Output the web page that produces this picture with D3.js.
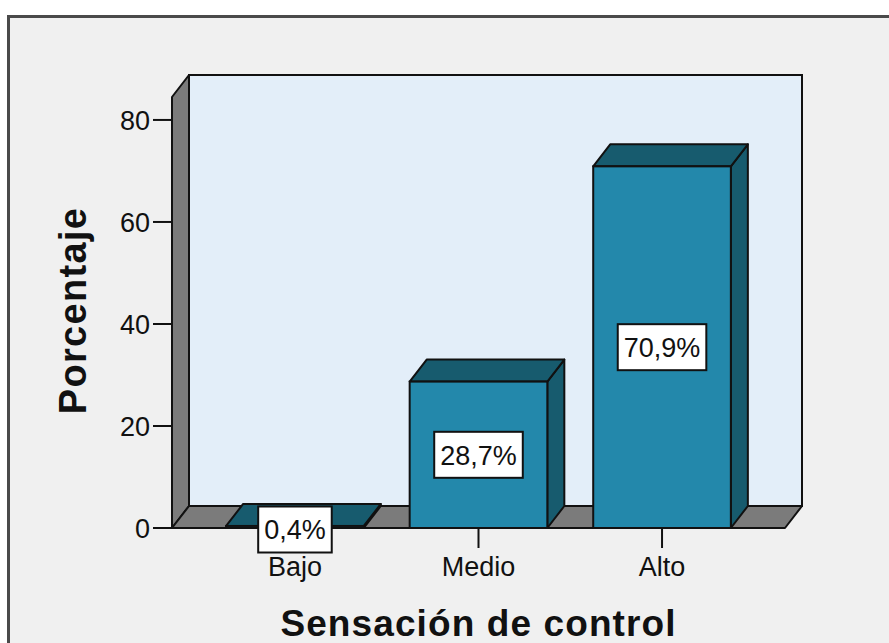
<!DOCTYPE html>
<html>
<head>
<meta charset="utf-8">
<script src="https://cdn.jsdelivr.net/npm/d3@7/dist/d3.min.js"></script>
<style>
  html, body { margin: 0; padding: 0; background: #ffffff; }
  svg { display: block; font-family: "Liberation Sans", Arial, sans-serif; }
</style>
</head>
<body>
<svg id="chart" width="889" height="643"></svg>
<script>
const categories = ["Bajo", "Medio", "Alto"];
const values = [0.4, 28.7, 70.9];
const valueLabels = ["0,4%", "28,7%", "70,9%"];
const yTicks = [0, 20, 40, 60, 80];
const yTitle = "Porcentaje";
const xTitle = "Sensación de control";

const svg = d3.select("#chart");
const W = 889, H = 643;

// layout
const front = { left: 172, right: 785, bottom: 528, top: 97 };
const depth = { dx: 17, dy: 22 };

const x = d3.scaleBand().domain(categories).range([front.left, front.right])
  .paddingInner(0.25).paddingOuter(0.295);
const y = d3.scaleLinear().domain([0, 84.5]).range([front.bottom, front.top]);

// frame
svg.append("rect").attr("x", 8.5).attr("y", 16.5).attr("width", W).attr("height", H)
  .attr("fill", "#f0f0f0").attr("stroke", "#4a4a4a").attr("stroke-width", 3);

const wallStroke = "#111";
const y0 = y(0), yTop = y(84.5);
// back wall
svg.append("rect")
  .attr("x", front.left + depth.dx).attr("y", yTop - depth.dy)
  .attr("width", front.right - front.left).attr("height", y0 - yTop)
  .attr("fill", "#e3eef9").attr("stroke", wallStroke).attr("stroke-width", 2);
// side wall
const poly = pts => pts.map(p => p.join(",")).join(" ");
svg.append("polygon")
  .attr("points", poly([[front.left, y0], [front.left, yTop], [front.left + depth.dx, yTop - depth.dy], [front.left + depth.dx, y0 - depth.dy]]))
  .attr("fill", "#7b7b7b").attr("stroke", wallStroke).attr("stroke-width", 2).attr("stroke-linejoin", "round");
// floor
svg.append("polygon")
  .attr("points", poly([[front.left, y0], [front.right, y0], [front.right + depth.dx, y0 - depth.dy], [front.left + depth.dx, y0 - depth.dy]]))
  .attr("fill", "#7b7b7b").attr("stroke", wallStroke).attr("stroke-width", 2).attr("stroke-linejoin", "round");

// y axis ticks
const yAxisG = svg.append("g");
yTicks.forEach(t => {
  yAxisG.append("line").attr("x1", 153).attr("x2", front.left).attr("y1", y(t)).attr("y2", y(t))
    .attr("stroke", "#111").attr("stroke-width", 2);
  yAxisG.append("text").attr("x", 150).attr("y", y(t)).attr("dy", "0.36em")
    .attr("text-anchor", "end").attr("font-size", 27).attr("fill", "#111").text(t);
});

// x axis ticks and labels
categories.forEach(c => {
  const cx = x(c) + x.bandwidth() / 2;
  svg.append("line").attr("x1", cx).attr("x2", cx).attr("y1", y0).attr("y2", y0 + 20)
    .attr("stroke", "#111").attr("stroke-width", 2);
  svg.append("text").attr("x", cx).attr("y", 576).attr("text-anchor", "middle")
    .attr("font-size", 27).attr("fill", "#111").text(c);
});

// bars
const frontCol = "#2388ab", darkCol = "#175b6e";
categories.forEach((c, i) => {
  const bx = x(c), bw = x.bandwidth(), yv = y(values[i]);
  const g = svg.append("g");
  g.append("polygon")
    .attr("points", poly([[bx + bw, yv], [bx + bw + depth.dx, yv - depth.dy], [bx + bw + depth.dx, y0 - depth.dy], [bx + bw, y0]]))
    .attr("fill", darkCol).attr("stroke", "#111").attr("stroke-width", 2).attr("stroke-linejoin", "round");
  g.append("polygon")
    .attr("points", poly([[bx, yv], [bx + depth.dx, yv - depth.dy], [bx + bw + depth.dx, yv - depth.dy], [bx + bw, yv]]))
    .attr("fill", darkCol).attr("stroke", "#111").attr("stroke-width", 2).attr("stroke-linejoin", "round");
  g.append("rect").attr("x", bx).attr("y", yv).attr("width", bw).attr("height", y0 - yv)
    .attr("fill", frontCol).attr("stroke", "#111").attr("stroke-width", 2);
});

// value labels
categories.forEach((c, i) => {
  const cx = x(c) + x.bandwidth() / 2;
  let cy = (y(values[i]) + y0) / 2;
  if (values[i] < 2) cy = y0 + 1.5;
  const g = svg.append("g");
  const rect = g.append("rect");
  const txt = g.append("text").attr("x", cx).attr("y", cy).attr("dy", "0.36em")
    .attr("text-anchor", "middle").attr("font-size", 27).attr("fill", "#111").text(valueLabels[i]);
  const bb = txt.node().getBBox();
  const w = bb.width + 12, h = 46;
  rect.attr("x", cx - w / 2).attr("y", cy - h / 2).attr("width", w).attr("height", h)
    .attr("fill", "#ffffff").attr("stroke", "#111").attr("stroke-width", 2);
});

// axis titles
svg.append("text").attr("transform", `translate(86,${(y(0) + y(84.5)) / 2 - 2}) rotate(-90)`)
  .attr("text-anchor", "middle").attr("font-size", 38).attr("font-weight", "bold")
  .attr("letter-spacing", 1.3).attr("fill", "#111").text(yTitle);
svg.append("text").attr("x", (front.left + front.right) / 2).attr("y", 636)
  .attr("text-anchor", "middle").attr("font-size", 37).attr("font-weight", "bold")
  .attr("letter-spacing", 1.1).attr("fill", "#111").text(xTitle);
</script>
</body>
</html>
